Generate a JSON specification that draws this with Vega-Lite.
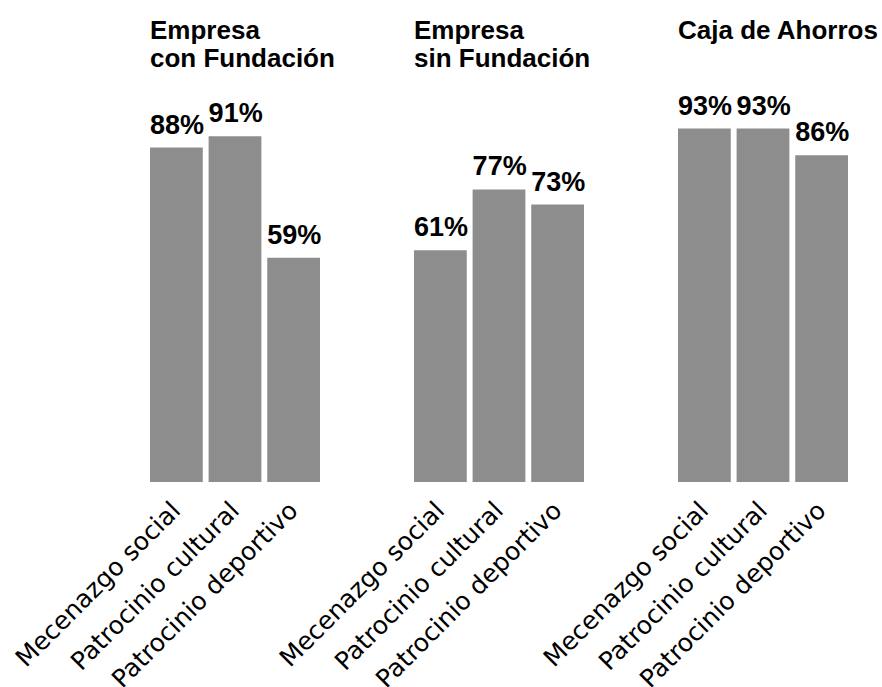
{
  "$schema": "https://vega.github.io/schema/vega-lite/v6.json",
  "background": "white",
  "padding": {"left": 11, "top": 18, "right": 5, "bottom": 5},
  "data": {
    "values": [
      {"grupo": "Empresa|con Fundación", "orden": 1, "tipo": "Mecenazgo social", "valor": 0.88},
      {"grupo": "Empresa|con Fundación", "orden": 1, "tipo": "Patrocinio cultural", "valor": 0.91},
      {"grupo": "Empresa|con Fundación", "orden": 1, "tipo": "Patrocinio deportivo", "valor": 0.59},
      {"grupo": "Empresa|sin Fundación", "orden": 2, "tipo": "Mecenazgo social", "valor": 0.61},
      {"grupo": "Empresa|sin Fundación", "orden": 2, "tipo": "Patrocinio cultural", "valor": 0.77},
      {"grupo": "Empresa|sin Fundación", "orden": 2, "tipo": "Patrocinio deportivo", "valor": 0.73},
      {"grupo": "Caja de Ahorros|", "orden": 3, "tipo": "Mecenazgo social", "valor": 0.93},
      {"grupo": "Caja de Ahorros|", "orden": 3, "tipo": "Patrocinio cultural", "valor": 0.93},
      {"grupo": "Caja de Ahorros|", "orden": 3, "tipo": "Patrocinio deportivo", "valor": 0.86}
    ]
  },
  "facet": {
    "column": {
      "field": "grupo",
      "type": "nominal",
      "sort": {"field": "orden"},
      "title": null,
      "header": {
        "labelExpr": "split(datum.value, '|')",
        "labelFont": "Liberation Sans",
        "labelFontWeight": "bold",
        "labelFontSize": 26,
        "labelColor": "black",
        "labelAlign": "left",
        "labelAnchor": "start",
        "labelBaseline": "top",
        "labelLineHeight": 28,
        "labelPadding": 20
      }
    }
  },
  "spacing": 92,
  "spec": {
    "width": 170,
    "height": 380,
    "layer": [
      {
        "mark": {"type": "bar", "color": "#8d8d8d"},
        "encoding": {
          "x": {
            "field": "tipo",
            "type": "nominal",
            "scale": {"paddingInner": 0.1, "paddingOuter": 0},
            "axis": {
              "title": null,
              "domain": false,
              "ticks": false,
              "labelAngle": -45,
              "labelAlign": "right",
              "labelBaseline": "middle",
              "labelFont": "DejaVu Sans",
              "labelFontSize": 25,
              "labelColor": "black",
              "labelPadding": 24,
              "labelLimit": 400
            }
          },
          "y": {
            "field": "valor",
            "type": "quantitative",
            "scale": {"domain": [0, 1]},
            "axis": null
          }
        }
      },
      {
        "mark": {
          "type": "text",
          "align": "left",
          "baseline": "alphabetic",
          "dy": -14,
          "font": "Liberation Sans",
          "fontWeight": "bold",
          "fontSize": 27,
          "color": "black"
        },
        "encoding": {
          "x": {"field": "tipo", "type": "nominal", "bandPosition": 0},
          "y": {"field": "valor", "type": "quantitative"},
          "text": {"field": "valor", "type": "quantitative", "format": ".0%"}
        }
      }
    ]
  },
  "config": {
    "view": {"stroke": null},
    "axis": {"grid": false}
  }
}
